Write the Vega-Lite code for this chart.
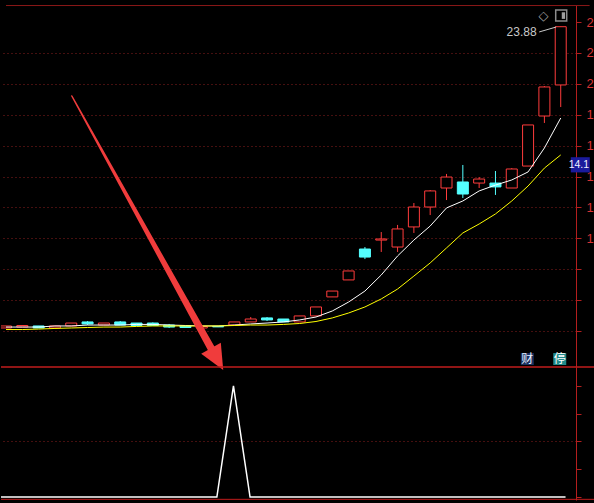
{
  "$schema": "https://vega.github.io/schema/vega-lite/v6.json",
  "background": "#000000",
  "padding": {"left": 0, "top": 5, "right": 0, "bottom": 3},
  "spacing": 0,
  "bounds": "flush",
  "config": {"view": {"stroke": null}},
  "datasets": {
    "bars": [
      {"k": 0, "open": 4.38, "high": 4.51, "low": 4.38, "close": 4.51, "ma5": 4.44, "ma10": 4.28, "sig": 0},
      {"k": 1, "open": 4.44, "high": 4.54, "low": 4.44, "close": 4.54, "ma5": 4.44, "ma10": 4.28, "sig": 0},
      {"k": 2, "open": 4.51, "high": 4.51, "low": 4.38, "close": 4.38, "ma5": 4.44, "ma10": 4.31, "sig": 0},
      {"k": 3, "open": 4.38, "high": 4.51, "low": 4.38, "close": 4.51, "ma5": 4.51, "ma10": 4.35, "sig": 0},
      {"k": 4, "open": 4.51, "high": 4.70, "low": 4.51, "close": 4.70, "ma5": 4.51, "ma10": 4.38, "sig": 0},
      {"k": 5, "open": 4.77, "high": 4.83, "low": 4.57, "close": 4.64, "ma5": 4.57, "ma10": 4.41, "sig": 0},
      {"k": 6, "open": 4.57, "high": 4.70, "low": 4.57, "close": 4.70, "ma5": 4.57, "ma10": 4.44, "sig": 0},
      {"k": 7, "open": 4.77, "high": 4.83, "low": 4.57, "close": 4.57, "ma5": 4.57, "ma10": 4.44, "sig": 0},
      {"k": 8, "open": 4.70, "high": 4.70, "low": 4.51, "close": 4.54, "ma5": 4.61, "ma10": 4.48, "sig": 0},
      {"k": 9, "open": 4.70, "high": 4.74, "low": 4.51, "close": 4.54, "ma5": 4.61, "ma10": 4.51, "sig": 0},
      {"k": 10, "open": 4.57, "high": 4.64, "low": 4.38, "close": 4.44, "ma5": 4.57, "ma10": 4.51, "sig": 0},
      {"k": 11, "open": 4.51, "high": 4.51, "low": 4.38, "close": 4.41, "ma5": 4.54, "ma10": 4.51, "sig": 0},
      {"k": 12, "open": 4.38, "high": 4.48, "low": 4.38, "close": 4.48, "ma5": 4.51, "ma10": 4.51, "sig": 0},
      {"k": 13, "open": 4.48, "high": 4.48, "low": 4.44, "close": 4.45, "ma5": 4.51, "ma10": 4.51, "sig": 0},
      {"k": 14, "open": 4.57, "high": 4.77, "low": 4.57, "close": 4.77, "ma5": 4.57, "ma10": 4.54, "sig": 1},
      {"k": 15, "open": 4.77, "high": 5.09, "low": 4.77, "close": 4.96, "ma5": 4.64, "ma10": 4.57, "sig": 0},
      {"k": 16, "open": 5.03, "high": 5.09, "low": 4.83, "close": 4.90, "ma5": 4.70, "ma10": 4.57, "sig": 0},
      {"k": 17, "open": 4.96, "high": 4.96, "low": 4.77, "close": 4.77, "ma5": 4.77, "ma10": 4.61, "sig": 0},
      {"k": 18, "open": 4.77, "high": 5.16, "low": 4.77, "close": 5.16, "ma5": 4.90, "ma10": 4.67, "sig": 0},
      {"k": 19, "open": 5.16, "high": 5.74, "low": 5.16, "close": 5.74, "ma5": 5.09, "ma10": 4.80, "sig": 0},
      {"k": 20, "open": 6.39, "high": 6.77, "low": 6.39, "close": 6.77, "ma5": 5.48, "ma10": 5.03, "sig": 0},
      {"k": 21, "open": 7.49, "high": 8.07, "low": 7.49, "close": 8.07, "ma5": 6.06, "ma10": 5.35, "sig": 0},
      {"k": 22, "open": 9.49, "high": 9.62, "low": 8.84, "close": 8.97, "ma5": 6.77, "ma10": 5.74, "sig": 0},
      {"k": 23, "open": 10.07, "high": 10.59, "low": 9.30, "close": 10.14, "ma5": 7.81, "ma10": 6.26, "sig": 0},
      {"k": 24, "open": 9.62, "high": 11.05, "low": 9.30, "close": 10.79, "ma5": 9.04, "ma10": 6.90, "sig": 0},
      {"k": 25, "open": 10.92, "high": 12.47, "low": 10.53, "close": 12.21, "ma5": 10.07, "ma10": 7.74, "sig": 0},
      {"k": 26, "open": 12.21, "high": 13.31, "low": 11.69, "close": 13.25, "ma5": 10.98, "ma10": 8.59, "sig": 0},
      {"k": 27, "open": 13.44, "high": 14.35, "low": 12.66, "close": 14.15, "ma5": 12.15, "ma10": 9.56, "sig": 0},
      {"k": 28, "open": 13.83, "high": 14.93, "low": 12.79, "close": 13.05, "ma5": 12.60, "ma10": 10.53, "sig": 0},
      {"k": 29, "open": 13.76, "high": 14.15, "low": 13.44, "close": 14.02, "ma5": 13.25, "ma10": 11.11, "sig": 0},
      {"k": 30, "open": 13.76, "high": 14.54, "low": 12.99, "close": 13.51, "ma5": 13.63, "ma10": 11.76, "sig": 0},
      {"k": 31, "open": 13.44, "high": 14.73, "low": 13.44, "close": 14.67, "ma5": 13.96, "ma10": 12.60, "sig": 0},
      {"k": 32, "open": 14.86, "high": 17.52, "low": 14.86, "close": 17.52, "ma5": 14.48, "ma10": 13.57, "sig": 0},
      {"k": 33, "open": 18.10, "high": 20.04, "low": 17.65, "close": 19.98, "ma5": 16.03, "ma10": 14.73, "sig": 0},
      {"k": 34, "open": 20.11, "high": 23.88, "low": 18.68, "close": 23.88, "ma5": 17.97, "ma10": 15.58, "sig": 0}
    ],
    "arrow": [
      {"t": 0, "k": 4.035, "p": 19.395},
      {"t": 1, "k": 12.72, "p": 2.786}
    ]
  },
  "vconcat": [
    {
      "width": 575,
      "height": 362,
      "data": {"name": "bars"},
      "resolve": {"axis": {"x": "independent", "y": "independent"}},
      "layer": [
        {
          "mark": {"type": "rule", "strokeWidth": 1, "clip": true},
          "encoding": {
            "x": {"field": "k", "type": "quantitative", "scale": {"domain": [0, 34.63], "nice": false, "zero": false}, "axis": null},
            "y": {
              "field": "low", "type": "quantitative",
              "scale": {"domain": [1.854, 25.285], "nice": false, "zero": false},
              "axis": {
                "orient": "right", "title": null,
                "values": [24.18, 22.18, 20.18, 18.18, 16.18, 14.18, 12.18, 10.18, 8.18, 6.18, 4.18],
                "format": ".2f",
                "labelExpr": "datum.value >= 10 ? substring(datum.label, 0, 1) : ''",
                "labelColor": "#d83232", "labelFont": "Liberation Sans", "labelFontSize": 13,
                "labelPadding": 5, "labelOverlap": false, "labelFlush": false,
                "grid": true, "gridColor": "#8a1e1e", "gridDash": [1, 3],
                "gridOpacity": {"condition": {"test": "datum.value > 24", "value": 0}, "value": 1},
                "domainColor": "#b41e1e", "tickColor": "#b41e1e", "tickSize": 5
              }
            },
            "y2": {"field": "high"},
            "color": {"condition": {"test": "datum.close < datum.open", "value": "#54ffff"}, "value": "#ff3c3c"}
          }
        },
        {
          "mark": {"type": "bar", "width": 11, "strokeWidth": 1, "clip": true},
          "encoding": {
            "x": {"field": "k", "type": "quantitative", "scale": {"domain": [0, 34.63], "nice": false, "zero": false}, "axis": null},
            "y": {"field": "open", "type": "quantitative", "scale": {"domain": [1.854, 25.285], "nice": false, "zero": false}, "axis": null},
            "y2": {"field": "close"},
            "fill": {"condition": {"test": "datum.close < datum.open", "value": "#54ffff"}, "value": "#000000"},
            "stroke": {"condition": {"test": "datum.close < datum.open", "value": "#54ffff"}, "value": "#ff3c3c"}
          }
        },
        {
          "mark": {"type": "line", "color": "#ffffff", "strokeWidth": 1, "clip": true},
          "encoding": {
            "x": {"field": "k", "type": "quantitative", "scale": {"domain": [0, 34.63], "nice": false, "zero": false}, "axis": null},
            "y": {"field": "ma5", "type": "quantitative", "scale": {"domain": [1.854, 25.285], "nice": false, "zero": false}, "axis": null}
          }
        },
        {
          "mark": {"type": "line", "color": "#ffff00", "strokeWidth": 1, "clip": true},
          "encoding": {
            "x": {"field": "k", "type": "quantitative", "scale": {"domain": [0, 34.63], "nice": false, "zero": false}, "axis": null},
            "y": {"field": "ma10", "type": "quantitative", "scale": {"domain": [1.854, 25.285], "nice": false, "zero": false}, "axis": null}
          }
        },
        {
          "data": {"name": "arrow"},
          "mark": {"type": "trail", "color": "#f03c3c"},
          "encoding": {
            "x": {"field": "k", "type": "quantitative", "scale": {"domain": [0, 34.63], "nice": false, "zero": false}, "axis": null},
            "y": {"field": "p", "type": "quantitative", "scale": {"domain": [1.854, 25.285], "nice": false, "zero": false}, "axis": null},
            "size": {"field": "t", "type": "quantitative", "scale": {"domain": [0, 1], "range": [1.5, 7.5]}, "legend": null}
          }
        },
        {
          "data": {"values": [{}]},
          "mark": {"type": "point", "shape": "M-0.9,-1L0.9,-1L0,1Z", "filled": true, "color": "#f03c3c", "opacity": 1, "size": 625, "angle": 330.7},
          "encoding": {
            "x": {"datum": 12.94, "type": "quantitative", "scale": {"domain": [0, 34.63], "nice": false, "zero": false}, "axis": null},
            "y": {"datum": 2.36, "type": "quantitative", "scale": {"domain": [1.854, 25.285], "nice": false, "zero": false}, "axis": null}
          }
        },
        {
          "data": {"values": [{}]},
          "mark": {"type": "text", "text": "23.88", "align": "right", "baseline": "middle", "font": "Liberation Sans", "fontSize": 12, "color": "#c8c8c8"},
          "encoding": {
            "x": {"datum": 32.52, "type": "quantitative", "scale": {"domain": [0, 34.63], "nice": false, "zero": false}, "axis": null},
            "y": {"datum": 23.54, "type": "quantitative", "scale": {"domain": [1.854, 25.285], "nice": false, "zero": false}, "axis": null}
          }
        },
        {
          "data": {"values": [{}]},
          "mark": {"type": "rule", "color": "#c8c8c8", "strokeWidth": 1},
          "encoding": {
            "x": {"datum": 32.68, "type": "quantitative", "scale": {"domain": [0, 34.63], "nice": false, "zero": false}, "axis": null},
            "x2": {"datum": 33.72},
            "y": {"datum": 23.54, "type": "quantitative", "scale": {"domain": [1.854, 25.285], "nice": false, "zero": false}, "axis": null},
            "y2": {"datum": 23.86}
          }
        },
        {
          "data": {"values": [{}]},
          "mark": {"type": "text", "text": "◇", "align": "center", "baseline": "middle", "font": "DejaVu Sans", "fontSize": 13, "color": "#a0a0a0"},
          "encoding": {
            "x": {"datum": 32.94, "type": "quantitative", "scale": {"domain": [0, 34.63], "nice": false, "zero": false}, "axis": null},
            "y": {"datum": 24.6, "type": "quantitative", "scale": {"domain": [1.854, 25.285], "nice": false, "zero": false}, "axis": null}
          }
        },
        {
          "data": {"values": [{}]},
          "mark": {"type": "point", "shape": "square", "filled": false, "stroke": "#8c8c8c", "strokeWidth": 1.5, "opacity": 1, "size": 121},
          "encoding": {
            "x": {"datum": 34.03, "type": "quantitative", "scale": {"domain": [0, 34.63], "nice": false, "zero": false}, "axis": null},
            "y": {"datum": 24.6, "type": "quantitative", "scale": {"domain": [1.854, 25.285], "nice": false, "zero": false}, "axis": null}
          }
        },
        {
          "data": {"values": [{}]},
          "mark": {"type": "point", "shape": "M0.1,-0.6H0.7V0.6H0.1Z", "filled": true, "color": "#a0a0a0", "opacity": 1, "size": 121},
          "encoding": {
            "x": {"datum": 34.03, "type": "quantitative", "scale": {"domain": [0, 34.63], "nice": false, "zero": false}, "axis": null},
            "y": {"datum": 24.6, "type": "quantitative", "scale": {"domain": [1.854, 25.285], "nice": false, "zero": false}, "axis": null}
          }
        },
        {
          "data": {"values": [{}]},
          "mark": {"type": "point", "shape": "M-1,-0.8H1V0.8H-1Z", "filled": true, "color": "#1a1a9c", "opacity": 1, "size": 361, "yOffset": -13},
          "encoding": {
            "x": {"datum": 35.2, "type": "quantitative", "scale": {"domain": [0, 34.63], "nice": false, "zero": false}, "axis": null},
            "y": {"datum": 14.1, "type": "quantitative", "scale": {"domain": [1.854, 25.285], "nice": false, "zero": false}, "axis": null}
          }
        },
        {
          "data": {"values": [{}]},
          "mark": {"type": "text", "text": "14.1", "align": "right", "baseline": "middle", "dy": -13, "font": "Liberation Sans", "fontSize": 10.5, "color": "#f0f0ff"},
          "encoding": {
            "x": {"datum": 35.74, "type": "quantitative", "scale": {"domain": [0, 34.63], "nice": false, "zero": false}, "axis": null},
            "y": {"datum": 14.1, "type": "quantitative", "scale": {"domain": [1.854, 25.285], "nice": false, "zero": false}, "axis": null}
          }
        },
        {
          "data": {"values": [{}]},
          "mark": {"type": "point", "shape": "M-1,-0.92H1V0.92H-1Z", "filled": true, "color": "#1c3060", "opacity": 1, "size": 169},
          "encoding": {
            "x": {"datum": 31.95, "type": "quantitative", "scale": {"domain": [0, 34.63], "nice": false, "zero": false}, "axis": null},
            "y": {"datum": 2.37, "type": "quantitative", "scale": {"domain": [1.854, 25.285], "nice": false, "zero": false}, "axis": null}
          }
        },
        {
          "data": {"values": [{}]},
          "mark": {"type": "text", "text": "财", "align": "center", "baseline": "middle", "font": "Noto Sans CJK SC", "fontSize": 12, "color": "#e8f0ff"},
          "encoding": {
            "x": {"datum": 31.95, "type": "quantitative", "scale": {"domain": [0, 34.63], "nice": false, "zero": false}, "axis": null},
            "y": {"datum": 2.37, "type": "quantitative", "scale": {"domain": [1.854, 25.285], "nice": false, "zero": false}, "axis": null}
          }
        },
        {
          "data": {"values": [{}]},
          "mark": {"type": "point", "shape": "M-1,-0.92H1V0.92H-1Z", "filled": true, "color": "#218a8a", "opacity": 1, "size": 169},
          "encoding": {
            "x": {"datum": 33.94, "type": "quantitative", "scale": {"domain": [0, 34.63], "nice": false, "zero": false}, "axis": null},
            "y": {"datum": 2.37, "type": "quantitative", "scale": {"domain": [1.854, 25.285], "nice": false, "zero": false}, "axis": null}
          }
        },
        {
          "data": {"values": [{}]},
          "mark": {"type": "text", "text": "停", "align": "center", "baseline": "middle", "font": "Noto Sans CJK SC", "fontSize": 12, "color": "#ffffff"},
          "encoding": {
            "x": {"datum": 33.94, "type": "quantitative", "scale": {"domain": [0, 34.63], "nice": false, "zero": false}, "axis": null},
            "y": {"datum": 2.37, "type": "quantitative", "scale": {"domain": [1.854, 25.285], "nice": false, "zero": false}, "axis": null}
          }
        },
        {
          "data": {"values": [{}]},
          "mark": {"type": "rule", "color": "#8c1818", "strokeWidth": 1},
          "encoding": {
            "x": {"datum": 0, "type": "quantitative", "scale": {"domain": [0, 34.63], "nice": false, "zero": false}, "axis": null},
            "x2": {"datum": 35.77},
            "y": {"datum": 25.25, "type": "quantitative", "scale": {"domain": [1.854, 25.285], "nice": false, "zero": false}, "axis": null}
          }
        }
      ]
    },
    {
      "width": 575,
      "height": 133,
      "data": {"name": "bars"},
      "resolve": {"axis": {"x": "independent", "y": "independent"}},
      "layer": [
        {
          "mark": {"type": "line", "color": "#ffffff", "strokeWidth": 1.5, "clip": true},
          "encoding": {
            "x": {"field": "k", "type": "quantitative", "scale": {"domain": [0, 34.63], "nice": false, "zero": false}, "axis": null},
            "y": {
              "field": "sig", "type": "quantitative",
              "scale": {"domain": [-0.027, 1.171], "nice": false, "zero": false},
              "axis": {
                "orient": "right", "title": null,
                "values": [0, 0.25, 0.5, 0.75, 1],
                "labels": false,
                "grid": true, "gridColor": "#8a1e1e", "gridDash": [1, 3],
                "gridOpacity": {"condition": {"test": "datum.value != 0.5", "value": 0}, "value": 1},
                "domainColor": "#b41e1e", "tickColor": "#b41e1e", "tickSize": 5
              }
            }
          }
        },
        {
          "data": {"values": [{}]},
          "mark": {"type": "rule", "color": "#c01c1c", "strokeWidth": 1.5},
          "encoding": {
            "x": {"datum": 0, "type": "quantitative", "scale": {"domain": [0, 34.63], "nice": false, "zero": false}, "axis": null},
            "x2": {"datum": 35.77},
            "y": {"datum": 1.171, "type": "quantitative", "scale": {"domain": [-0.027, 1.171], "nice": false, "zero": false}, "axis": null}
          }
        },
        {
          "data": {"values": [{}]},
          "mark": {"type": "rule", "color": "#c01c1c", "strokeWidth": 1},
          "encoding": {
            "x": {"datum": 0, "type": "quantitative", "scale": {"domain": [0, 34.63], "nice": false, "zero": false}, "axis": null},
            "x2": {"datum": 35.77},
            "y": {"datum": -0.021, "type": "quantitative", "scale": {"domain": [-0.027, 1.171], "nice": false, "zero": false}, "axis": null}
          }
        }
      ]
    }
  ]
}
